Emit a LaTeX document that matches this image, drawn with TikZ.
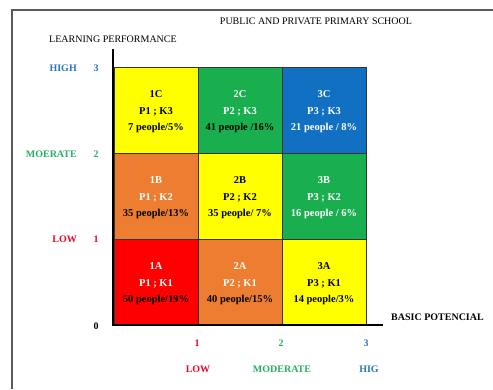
\documentclass[tikz,border=0pt]{standalone}
\usepackage{fontspec}
\setmainfont{Liberation Serif}
\definecolor{cyel}{RGB}{255,255,0}
\definecolor{cgrn}{RGB}{26,175,78}
\definecolor{cblu}{RGB}{17,112,194}
\definecolor{cora}{RGB}{237,125,49}
\definecolor{cred}{RGB}{255,0,0}
\definecolor{tblu}{RGB}{46,117,190}
\definecolor{tgrn}{RGB}{40,176,100}
\definecolor{tred}{RGB}{230,10,40}
\definecolor{frame}{RGB}{90,90,90}
\begin{document}
\begin{tikzpicture}[x=1pt,y=-1pt,
  cell/.style={draw=black!80,line width=0.8pt,minimum width=84pt,minimum height=86pt,inner sep=0pt,outer sep=0pt},
  celltext/.style={font=\fontsize{10.5}{16.5}\selectfont\bfseries,align=center,inner sep=0pt},
  lab/.style={font=\fontsize{10}{12}\selectfont\bfseries,inner sep=0pt},
  plain/.style={font=\fontsize{10}{12}\selectfont,inner sep=0pt},
  axis/.style={line width=2.5pt,black}]
\useasboundingbox (0,0) rectangle (493,389);
\fill[white] (0,0) rectangle (493,389);
% frame
\coordinate (fbl) at (12,389);
\coordinate (ftl) at (12,10);
\coordinate (ftr) at (493,10);
\draw[frame,line width=1.5pt] (fbl) -- (ftl) -- (ftr);
% cells
\node[cell,fill=cyel] (c1C) at (156,110) {};
\node[cell,fill=cgrn] (c2C) at (240,110) {};
\node[cell,fill=cblu] (c3C) at (324,110) {};
\node[cell,fill=cora] (c1B) at (156,196) {};
\node[cell,fill=cyel] (c2B) at (240,196) {};
\node[cell,fill=cgrn] (c3B) at (324,196) {};
\node[cell,fill=cred] (c1A) at (156,282) {};
\node[cell,fill=cora] (c2A) at (240,282) {};
\node[cell,fill=cyel] (c3A) at (324,282) {};
% cell texts
\node[celltext] (t1C) at ([yshift=-2pt]c1C.center) {1C\\P1 ; K3\\7 people/5\%};
\node[celltext] (t2C) at ([yshift=-2pt]c2C.center) {\textcolor{white}{2C}\\\textcolor{white}{P2 ; K3}\\41 people /16\%};
\node[celltext,text=white] (t3C) at ([yshift=-2pt]c3C.center) {3C\\P3 ; K3\\21 people / 8\%};
\node[celltext] (t1B) at ([yshift=-2pt]c1B.center) {\textcolor{white}{1B}\\\textcolor{white}{P1 ; K2}\\35 people/13\%};
\node[celltext] (t2B) at ([yshift=-2pt]c2B.center) {2B\\P2 ; K2\\35 people/ 7\%};
\node[celltext,text=white] (t3B) at ([yshift=-2pt]c3B.center) {3B\\P3 ; K2\\16 people / 6\%};
\node[celltext] (t1A) at ([yshift=-2pt]c1A.center) {\textcolor{white}{1A}\\\textcolor{white}{P1 ; K1}\\50 people/19\%};
\node[celltext] (t2A) at ([yshift=-2pt]c2A.center) {\textcolor{white}{2A}\\\textcolor{white}{P2 ; K1}\\40 people/15\%};
\node[celltext] (t3A) at ([yshift=-2pt]c3A.center) {3A\\P3 ; K1\\14 people/3\%};
% axes
\coordinate (ytop) at (113,49);
\coordinate (orig) at (113,325);
\coordinate (xend) at (383,325);
\draw[axis] (ytop) -- (orig) -- (xend);
% titles
\node[plain] (title) at (316,21) {PUBLIC AND PRIVATE PRIMARY SCHOOL};
\node[plain] (ylab) at (113,39) {LEARNING PERFORMANCE};
\node[lab] (xlab) at (437.5,317) {BASIC POTENCIAL};
% y labels
\node[lab,text=tblu,anchor=east] (yhigh) at (77,68) {HIGH};
\node[lab,text=tblu] (y3) at (96,68) {3};
\node[lab,text=tgrn,anchor=east] (ymod) at (77,154) {MOERATE};
\node[lab,text=tgrn] (y2) at (96,154) {2};
\node[lab,text=tred,anchor=east] (ylow) at (77,239) {LOW};
\node[lab,text=tred] (y1) at (96,239) {1};
\node[lab] (y0) at (96,326) {0};
% x labels
\node[lab,text=tred] (x1) at (197,343) {1};
\node[lab,text=tgrn] (x2) at (281,343) {2};
\node[lab,text=tblu] (x3) at (366,343) {3};
\node[lab,text=tred] (xlow) at (198,369) {LOW};
\node[lab,text=tgrn] (xmod) at (282,369) {MODERATE};
\node[lab,text=tblu] (xhig) at (369,369) {HIG};
\end{tikzpicture}
\end{document}
